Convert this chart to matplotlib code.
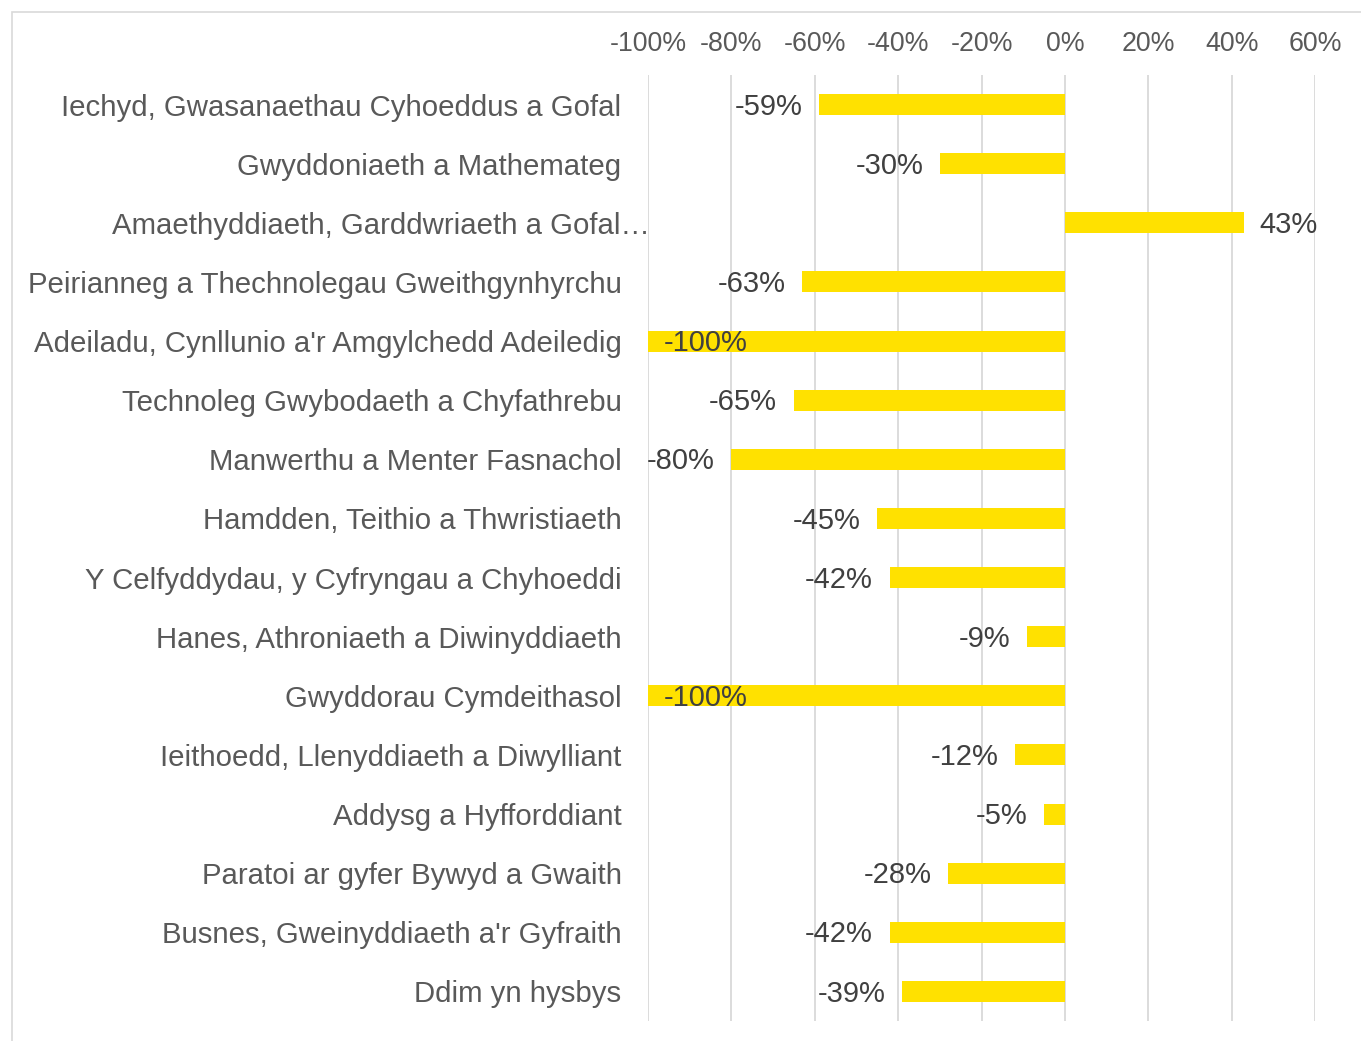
import matplotlib
matplotlib.use("Agg")
import matplotlib.pyplot as plt
import matplotlib.transforms as mtransforms
from matplotlib.ticker import FixedLocator, FuncFormatter
from matplotlib.patches import Rectangle

plt.rcParams['font.family'] = ['Liberation Sans', 'DejaVu Sans']

categories = [
    "Iechyd, Gwasanaethau Cyhoeddus a Gofal",
    "Gwyddoniaeth a Mathemateg",
    "Amaethyddiaeth, Garddwriaeth a Gofal…",
    "Peirianneg a Thechnolegau Gweithgynhyrchu",
    "Adeiladu, Cynllunio a'r Amgylchedd Adeiledig",
    "Technoleg Gwybodaeth a Chyfathrebu",
    "Manwerthu a Menter Fasnachol",
    "Hamdden, Teithio a Thwristiaeth",
    "Y Celfyddydau, y Cyfryngau a Chyhoeddi",
    "Hanes, Athroniaeth a Diwinyddiaeth",
    "Gwyddorau Cymdeithasol",
    "Ieithoedd, Llenyddiaeth a Diwylliant",
    "Addysg a Hyfforddiant",
    "Paratoi ar gyfer Bywyd a Gwaith",
    "Busnes, Gweinyddiaeth a'r Gyfraith",
    "Ddim yn hysbys",
]
changes = [-59, -30, 43, -63, -100, -65, -80, -45, -42, -9, -100, -12, -5, -28, -42, -39]
xticks = [-100, -80, -60, -40, -20, 0, 20, 40, 60]

W, H = 1361, 1041
fig = plt.figure(figsize=(W / 100, H / 100), dpi=100)

# outer chart border (light grey, top and left visible)
fig.add_artist(Rectangle((12 / W, -0.1), 1.2, 1 - 12 / H + 0.1,
                         transform=fig.transFigure, fill=False,
                         edgecolor='#d9d9d9', linewidth=1.2))

ax = fig.add_axes([648 / W, 1 - 1021 / H, (1315 - 648) / W, (1021 - 75) / H])

y = list(range(len(categories)))
ax.barh(y, changes, height=0.355, color='#FFE100', zorder=2)

ax.set_xlim(-100, 60)
ax.set_ylim(len(categories) - 0.5, -0.5)
ax.xaxis.set_major_locator(FixedLocator(xticks))
ax.xaxis.set_major_formatter(FuncFormatter(lambda v, p: f"{int(round(v))}%"))
ax.xaxis.tick_top()
ax.tick_params(axis='x', length=0, pad=13, labelsize=19.3, labelcolor='#595959')
ax.grid(axis='x', color='#d9d9d9', linewidth=1.3, zorder=0)
ax.set_axisbelow(True)

ax.set_yticks(y)
ax.set_yticklabels(categories)
ax.tick_params(axis='y', length=0, pad=19, labelsize=21.2, labelcolor='#595959')

for s in ax.spines.values():
    s.set_visible(False)

# the truncated category label overflows past the others
lbl = ax.get_yticklabels()[2]
lbl.set_transform(lbl.get_transform() +
                  mtransforms.ScaledTranslation(28 / 100, 0, fig.dpi_scale_trans))

for yi, v in zip(y, changes):
    txt = f"{v}%"
    if v <= -100:
        off, ha = (11, -1.5), 'left'
    elif v < 0:
        off, ha = (-12, -1.5), 'right'
    else:
        off, ha = (11, -1.5), 'left'
    ax.annotate(txt, (v, yi), xytext=off, textcoords='offset points',
                ha=ha, va='center', fontsize=21, color='#404040', zorder=3)

fig.savefig("out.png", dpi=100)
